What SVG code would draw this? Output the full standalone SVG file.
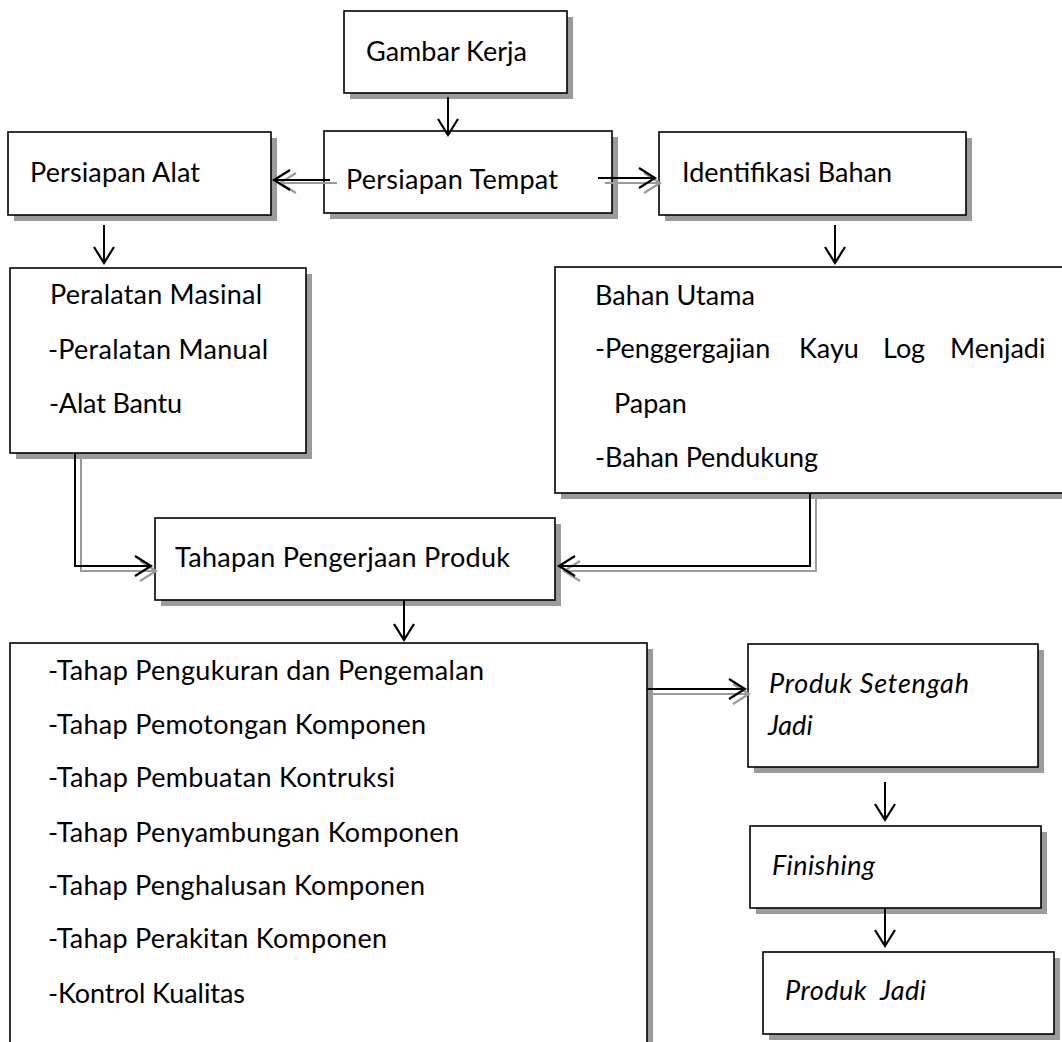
<svg xmlns="http://www.w3.org/2000/svg" width="1062" height="1042" viewBox="0 0 1062 1042">
<style>
.sh{fill:#9b9b9b;stroke:none}
.bx{fill:#fff;stroke:#000;stroke-width:1.6}
.t{font-family:Lato,"Open Sans","Liberation Sans",sans-serif;font-size:27px;fill:#000}
.i{font-style:italic}
.cl{fill:none;stroke:#000;stroke-width:2}
.cg{fill:none;stroke:#9b9b9b;stroke-width:2}
</style>
<defs>
<marker id="ab" markerUnits="userSpaceOnUse" viewBox="-20 -12 24 24" markerWidth="24" markerHeight="24" refX="0" refY="0" orient="auto" overflow="visible">
<path d="M-16,-10 L0,0 L-16,10" fill="none" stroke="#000" stroke-width="2.2"/>
</marker>
<marker id="ag" markerUnits="userSpaceOnUse" viewBox="-20 -12 24 24" markerWidth="24" markerHeight="24" refX="0" refY="0" orient="auto" overflow="visible">
<path d="M-16,-10 L0,0 L-16,10" fill="none" stroke="#9b9b9b" stroke-width="2.2"/>
</marker>
</defs>
<rect width="1062" height="1042" fill="#fff"/>

<g id="gambar-kerja">
<rect class="sh" x="350" y="17" width="223" height="82"/>
<rect class="bx" x="344" y="11" width="223" height="82"/>
<text class="t" x="366" y="61" textLength="161">Gambar Kerja</text>
</g>

<g id="persiapan-tempat">
<rect class="sh" x="330" y="137" width="288" height="82"/>
<rect class="bx" x="324" y="131" width="288" height="82"/>
<text class="t" x="346" y="189" textLength="212">Persiapan Tempat</text>
</g>

<g id="persiapan-alat">
<rect class="sh" x="14" y="138" width="263" height="83"/>
<rect class="bx" x="8" y="132" width="263" height="83"/>
<text class="t" x="30" y="182" textLength="170">Persiapan Alat</text>
</g>

<g id="identifikasi-bahan">
<rect class="sh" x="665" y="138" width="307" height="83"/>
<rect class="bx" x="659" y="132" width="307" height="83"/>
<text class="t" x="682" y="182" textLength="210">Identifikasi Bahan</text>
</g>

<g id="peralatan">
<rect class="sh" x="16" y="274" width="296" height="185"/>
<rect class="bx" x="10" y="268" width="296" height="185"/>
<text class="t" x="50" y="304" textLength="212">Peralatan Masinal</text>
<text class="t" x="48" y="359" textLength="220">-Peralatan Manual</text>
<text class="t" x="49" y="413" textLength="133">-Alat Bantu</text>
</g>

<g id="bahan">
<rect class="sh" x="561" y="273" width="520" height="226"/>
<rect class="bx" x="555" y="267" width="520" height="226"/>
<text class="t" x="595" y="305" textLength="160">Bahan Utama</text>
<text class="t"><tspan x="595" y="358">-Penggergajian</tspan><tspan x="799" y="358">Kayu</tspan><tspan x="883" y="358">Log</tspan><tspan x="950" y="358">Menjadi</tspan></text>
<text class="t" x="614" y="413">Papan</text>
<text class="t" x="595" y="467" textLength="223">-Bahan Pendukung</text>
</g>

<g id="tahapan">
<rect class="sh" x="161" y="524" width="400" height="82"/>
<rect class="bx" x="155" y="518" width="400" height="82"/>
<text class="t" x="175" y="567" textLength="335">Tahapan Pengerjaan Produk</text>
</g>

<g id="daftar-tahap">
<rect class="sh" x="16" y="649" width="637" height="420"/>
<rect class="bx" x="10" y="643" width="637" height="420"/>
<text class="t" x="48" y="680" textLength="436">-Tahap Pengukuran dan Pengemalan</text>
<text class="t" x="48" y="734" textLength="378">-Tahap Pemotongan Komponen</text>
<text class="t" x="48" y="787" textLength="347">-Tahap Pembuatan Kontruksi</text>
<text class="t" x="48" y="842" textLength="411">-Tahap Penyambungan Komponen</text>
<text class="t" x="48" y="895" textLength="377">-Tahap Penghalusan Komponen</text>
<text class="t" x="48" y="948" textLength="339">-Tahap Perakitan Komponen</text>
<text class="t" x="48" y="1003" textLength="197">-Kontrol Kualitas</text>
</g>

<g id="produk-setengah-jadi">
<rect class="sh" x="754" y="650" width="290" height="123"/>
<rect class="bx" x="748" y="644" width="290" height="123"/>
<text class="t i" x="769" y="693" textLength="200">Produk Setengah</text>
<text class="t i" x="768" y="735">Jadi</text>
</g>

<g id="finishing">
<rect class="sh" x="756" y="832" width="291" height="82"/>
<rect class="bx" x="750" y="826" width="291" height="82"/>
<text class="t i" x="772" y="875" textLength="103">Finishing</text>
</g>

<g id="produk-jadi">
<rect class="sh" x="769" y="958" width="291" height="82"/>
<rect class="bx" x="763" y="952" width="291" height="82"/>
<text class="t i" x="785" y="1000" textLength="141" xml:space="preserve">Produk  Jadi</text>
</g>

<g id="connectors">
<path class="cg" d="M337,183 H280" marker-end="url(#ag)"/>
<path class="cl" d="M330,180 H274" marker-end="url(#ab)"/>
<path class="cg" d="M605,183 H660" marker-end="url(#ag)"/>
<path class="cl" d="M598,178 H655" marker-end="url(#ab)"/>
<path class="cl" d="M448,97 V135" marker-end="url(#ab)"/>
<path class="cl" d="M104,225 V263" marker-end="url(#ab)"/>
<path class="cl" d="M835,225 V263" marker-end="url(#ab)"/>
<path class="cg" d="M81,459 V571 H156" marker-end="url(#ag)"/>
<path class="cl" d="M75,453 V566 H151" marker-end="url(#ab)"/>
<path class="cg" d="M816,499 V571 H564" marker-end="url(#ag)"/>
<path class="cl" d="M810,493 V566 H559" marker-end="url(#ab)"/>
<path class="cl" d="M404,600 V640" marker-end="url(#ab)"/>
<path class="cg" d="M653,694 H749" marker-end="url(#ag)"/>
<path class="cl" d="M647,689 H745" marker-end="url(#ab)"/>
<path class="cl" d="M885,782 V820" marker-end="url(#ab)"/>
<path class="cl" d="M885,908 V946" marker-end="url(#ab)"/>
</g>
</svg>
